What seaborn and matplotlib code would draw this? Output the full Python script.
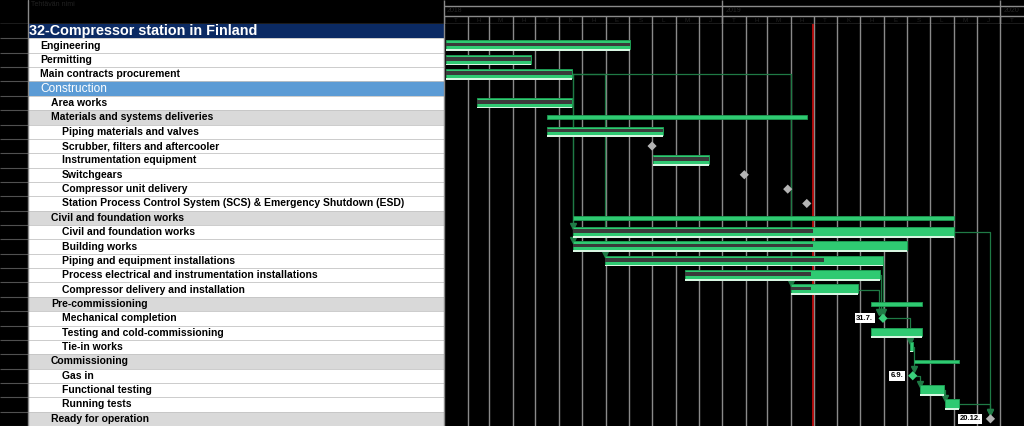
import matplotlib.pyplot as plt
import matplotlib.dates as mdates
import numpy as np
import pandas as pd
import seaborn as sns

sns.set_style("dark")
plt.rcParams['font.family'] = ['Liberation Sans', 'DejaVu Sans']

# Task table rows (row 0 is the project title)
task_names = ['32-Compressor station in Finland', 'Engineering', 'Permitting', 'Main contracts procurement',
              'Construction', 'Area works', 'Materials and systems deliveries', 'Piping materials and valves',
              'Scrubber, filters and aftercooler', 'Instrumentation equipment', 'Switchgears',
              'Compressor unit delivery',
              'Station Process Control System (SCS) & Emergency Shutdown (ESD)',
              'Civil and foundation works', 'Civil and foundation works', 'Building works',
              'Piping and equipment installations', 'Process electrical and instrumentation installations',
              'Compressor delivery and installation', 'Pre-commissioning', 'Mechanical completion',
              'Testing and cold-commissioning', 'Tie-in works', 'Commissioning', 'Gas in',
              'Functional testing', 'Running tests', 'Ready for operation']
task_level = [0, 1, 1, 1, 1, 2, 2, 3, 3, 3, 3, 3, 3, 2, 3, 3, 3, 3, 3, 2, 3, 3, 3, 2, 3, 3, 3, 2]
row_shade = ['title', 'white', 'white', 'white', 'blue', 'white', 'grey', 'white', 'white', 'white',
             'white', 'white', 'white', 'grey', 'white', 'white', 'white', 'white', 'white', 'grey',
             'white', 'white', 'white', 'grey', 'white', 'white', 'white', 'grey']

# Task bars
bar_rows = [1, 2, 3, 5, 7, 9, 14, 15, 16, 17, 18, 21, 22, 25, 26]
bar_start = ['2018-01-03', '2018-01-03', '2018-01-03', '2018-02-13', '2018-05-16', '2018-10-02',
             '2018-06-19', '2018-06-19', '2018-07-31', '2018-11-13', '2019-04-01', '2019-07-15',
             '2019-09-05', '2019-09-18', '2019-10-20']
bar_end = ['2018-09-02', '2018-04-25', '2018-06-18', '2018-06-18', '2018-10-15', '2018-12-15',
           '2019-11-01', '2019-09-01', '2019-07-31', '2019-07-27', '2019-06-28', '2019-09-20',
           '2019-09-09', '2019-10-19', '2019-11-08']
bar_done = ['2018-09-02', '2018-04-25', '2018-06-18', '2018-06-18', '2018-10-15', '2018-12-15',
            '2019-04-30', '2019-04-30', '2019-05-15', '2019-04-27', '2019-04-28', '2019-07-15',
            '2019-09-05', '2019-09-18', '2019-10-20']

# Summary bars
summary_rows = [6, 13, 19, 23]
summary_start = ['2018-05-16', '2018-06-19', '2019-07-15', '2019-09-10']
summary_end = ['2019-04-22', '2019-11-01', '2019-09-20', '2019-11-08']

# Milestones
milestone_rows = [8, 10, 11, 12, 20, 24, 27]
milestone_date = ['2018-10-01', '2019-01-30', '2019-03-28', '2019-04-22', '2019-07-31', '2019-09-08',
                  '2019-12-19']
milestone_kind = ['open', 'open', 'open', 'open', 'key', 'key', 'open']
milestone_label = ['', '', '', '', '31.7.', '6.9.', '20.12.']

# Dependency links
link_from_row = [3, 3, 3, 3, 16, 17, 18, 20, 22, 24, 25, 26, 14]
link_from_date = ['2018-06-18', '2018-06-18', '2018-06-18', '2018-06-18', '2019-07-31', '2019-07-27',
                  '2019-06-28', '2019-07-31', '2019-09-09', '2019-09-08', '2019-10-19', '2019-11-08',
                  '2019-11-01']
link_to_row = [14, 15, 16, 18, 20, 20, 20, 22, 24, 25, 26, 27, 27]
link_to_date = ['2018-06-19', '2018-06-19', '2018-07-31', '2019-04-01', '2019-07-31', '2019-07-28',
                '2019-07-26', '2019-09-04', '2019-09-10', '2019-09-18', '2019-10-21', '2019-12-18',
                '2019-12-18']

status_date = '2019-04-30'
year_labels = ['2018', '2019', '2020']
month_labels = ['T', 'H', 'M', 'H', 'T', 'K', 'H', 'E', 'S', 'L', 'M', 'J'] * 2 + ['T']


def dn(d):
    return mdates.date2num(pd.to_datetime(d))


months = pd.date_range('2018-01-01', '2020-01-01', freq='MS')
x_lo, x_hi = dn('2018-01-01'), dn('2020-02-01')
n_rows = len(task_names)

W, H = 1024, 426
fig = plt.figure(figsize=(W / 100, H / 100), dpi=100, facecolor='black')


def px_axes(x0, y0, x1, y1):
    return fig.add_axes([x0 / W, 1 - y1 / H, (x1 - x0) / W, (y1 - y0) / H])


line_grey = '#8a8a8a'
green = '#2fca72'
green_edge = '#1e9a52'
link_green = '#1f7a45'

# ---------------- table ----------------
tab = px_axes(0, 24, 444, 426)
tab.set_facecolor('black')
tab.set_xlim(0, 444)
tab.set_ylim(n_rows - 0.5, -0.5)
shade_colors = {'title': '#0b2a63', 'white': 'white', 'blue': '#5b9bd5', 'grey': '#d9d9d9'}
indent = {0: 29, 1: 40, 2: 51, 3: 62}
tab.axhspan(-0.5, n_rows - 0.5, xmin=28 / 444, xmax=1, color='white', lw=0, zorder=0)
for r, (name, lvl, shade) in enumerate(zip(task_names, task_level, row_shade)):
    if shade != 'white':
        tab.axhspan(r - 0.5, r + 0.5, xmin=28 / 444, xmax=1, color=shade_colors[shade], lw=0, zorder=1)
    if shade == 'title':
        tab.text(indent[lvl], r, name, color='white', fontsize=10.4, fontweight='bold', va='center', zorder=3)
    elif shade == 'blue':
        tab.text(indent[lvl], r, name, color='white', fontsize=8.6, va='center', zorder=3)
    else:
        tab.text(indent[lvl], r, name, color='black', fontsize=7.5, fontweight='bold', va='center', zorder=3)
    tab.hlines(r + 0.5, 28, 444, color='#c4c4c4', lw=0.6, zorder=2)
    tab.hlines(r + 0.5, 0, 28, color='#505050', lw=0.8, zorder=2)
tab.axvline(28, color=line_grey, lw=1)
tab.axvline(443.5, color=line_grey, lw=1)
tab.set_xticks([])
tab.set_yticks([])
for s in tab.spines.values():
    s.set_visible(False)

# table header
thd = px_axes(0, 0, 444, 24)
thd.set_facecolor('black')
thd.set_xlim(0, 444)
thd.set_ylim(24, 0)
thd.axvline(28, color=line_grey, lw=1)
thd.axvline(443.5, color=line_grey, lw=1)
thd.axhline(23.5, color=line_grey, lw=1)
thd.text(31, 5, 'Tehtävän nimi', color='#222222', fontsize=5, va='center')
thd.set_xticks([])
thd.set_yticks([])
for s in thd.spines.values():
    s.set_visible(False)

# ---------------- gantt ----------------
gan = px_axes(444, 24, 1024, 426)
gan.set_facecolor('black')
gan.set_axisbelow(True)
gan.set_xlim(x_lo, x_hi)
gan.set_ylim(n_rows - 0.5, -0.5)
gan.set_xticks(dn(months))
gan.set_xticklabels([])
gan.set_yticks([])
gan.tick_params(length=0)
gan.grid(axis='x', color=line_grey, lw=1)
gan.grid(axis='y', visible=False)
for s in gan.spines.values():
    s.set_visible(False)
gan.axvline(dn(status_date), color='#e01010', lw=1.1, zorder=3.5)

# dependency links
for fr, fd, tr, td in zip(link_from_row, link_from_date, link_to_row, link_to_date):
    gan.plot([dn(fd), dn(td), dn(td)], [fr, fr, tr - 0.4], color=link_green, lw=0.9, zorder=3)
    gan.plot(dn(td), tr - 0.45, marker='v', ms=4, color=link_green, zorder=3)

# summary bars
s_left = dn(summary_start)
s_width = dn(summary_end) - s_left
gan.barh(summary_rows, s_width, left=s_left, height=0.26, color=green, edgecolor=green_edge, lw=0.6, zorder=4)

# task bars: full bar, completed part, baseline
b_left = dn(bar_start)
b_width = dn(bar_end) - b_left
b_done = dn(bar_done) - b_left
b_rows = np.array(bar_rows)
gan.barh(b_rows - 0.05, b_width, left=b_left, height=0.62, color=green, edgecolor=green_edge, lw=0.7, zorder=4)
gan.barh(b_rows - 0.08, b_done, left=b_left, height=0.26, color='#3a3a3a', lw=0, zorder=5)
gan.barh(b_rows + 0.32, b_width, left=b_left, height=0.12, color='#d8f6e2', lw=0, zorder=5)

# milestones
ms = pd.DataFrame({'x': dn(milestone_date), 'row': milestone_rows, 'kind': milestone_kind})
sns.scatterplot(data=ms, x='x', y='row', hue='kind', palette={'open': '#b4b4b4', 'key': '#3ad07c'},
                marker='D', s=22, linewidth=0, legend=False, ax=gan, zorder=6)
for d, r, lab in zip(milestone_date, milestone_rows, milestone_label):
    if lab:
        gan.annotate(lab, (dn(d), r), xytext=(-7, 0), textcoords='offset points', ha='right', va='center',
                     fontsize=5.5, fontweight='bold', color='black',
                     bbox=dict(boxstyle='square,pad=0.2', fc='white', ec='none'), zorder=7)
gan.set_xlabel('')
gan.set_ylabel('')

# timescale header
hdr = px_axes(444, 0, 1024, 24)
hdr.set_facecolor('black')
hdr.set_xlim(x_lo, x_hi)
hdr.set_ylim(24, 0)
hdr.set_xticks([])
hdr.set_yticks([])
for s in hdr.spines.values():
    s.set_visible(False)
hdr.axhline(5.5, color=line_grey, lw=1)
hdr.axhline(16, color=line_grey, lw=1)
hdr.axhline(23.5, color=line_grey, lw=1)
years = pd.date_range('2018-01-01', '2020-01-01', freq='YS')
hdr.vlines(dn(years), 0, 24, color=line_grey, lw=1)
hdr.vlines(dn(months), 16, 24, color=line_grey, lw=1)
for y, lab in zip(years, year_labels):
    hdr.text(dn(y) + 4, 10.8, lab, color='#262626', fontsize=5, va='center')
for m, lab in zip(months, month_labels):
    hdr.text(dn(m) + 15, 20, lab, color='#222222', fontsize=4.5, va='center', ha='center')

fig.savefig('out.png', dpi=100, facecolor='black')
